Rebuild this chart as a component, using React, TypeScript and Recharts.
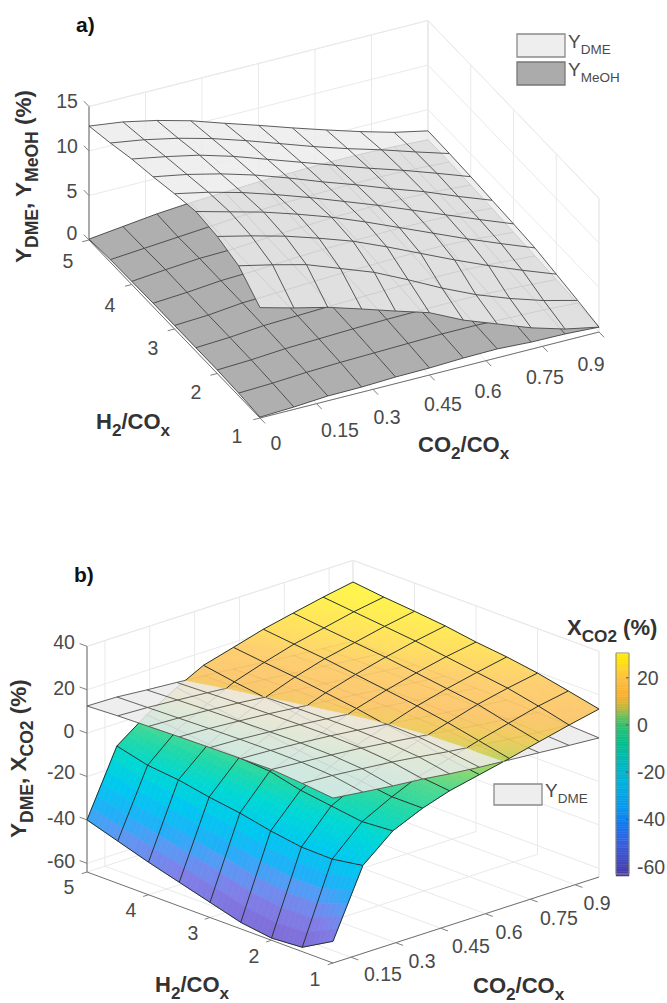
import { ScatterChart, Scatter, XAxis, YAxis } from 'recharts';

const WIDTH = 667;
const HEIGHT = 1003;

// H2/COx levels, rows of every table below run from 5 down to 1
const h2Levels = [5, 4.5, 4, 3.5, 3, 2.5, 2, 1.5, 1];
const co2LevelsA = [0, 0.09, 0.18, 0.27, 0.36, 0.45, 0.54, 0.63, 0.72, 0.81, 0.9];
const co2LevelsB = [0.09, 0.19, 0.29, 0.39, 0.48, 0.58, 0.68, 0.78, 0.88, 0.98];

const yDmeA = [
  [12.8, 12.3, 11.5, 10.5, 9.25, 8.05, 6.8, 5.6, 4.45, 3.4, 2.6],
  [13.4, 12.8, 12, 11, 9.8, 8.5, 7.2, 6, 4.9, 3.7, 2.55],
  [14.1, 13.4, 12.6, 11.5, 10.2, 8.9, 7.6, 6.3, 5.1, 3.8, 2.45],
  [14.6, 13.9, 13, 11.9, 10.6, 9.2, 7.9, 6.5, 5.2, 3.7, 2.3],
  [15.2, 14.4, 13.4, 12.2, 10.9, 9.5, 8.1, 6.6, 5.1, 3.6, 2.15],
  [15.7, 14.7, 13.7, 12.5, 11.2, 9.7, 8.1, 6.5, 4.9, 3.4, 1.95],
  [15.4, 14.5, 13.5, 12.3, 11, 9.4, 7.7, 6, 4.4, 2.9, 1.5],
  [14.6, 13.75, 12.8, 11.4, 10, 8.2, 6.3, 4.6, 3.2, 2, 1.05],
  [12.4, 11.4, 10.5, 9.35, 8.15, 7, 5.2, 3.8, 2.4, 1.3, 0.55],
];
const yMeohA = [
  [0.1, 0.55, 1, 1.3, 1.5, 1.7, 1.8, 1.9, 1.9, 1.8, 1.6],
  [0.3, 0.6, 0.9, 1.2, 1.5, 1.7, 1.8, 1.9, 1.9, 1.8, 1.6],
  [0.35, 0.7, 1, 1.1, 1.4, 1.6, 1.8, 1.9, 1.9, 1.8, 1.5],
  [0.4, 0.65, 1, 1.15, 1.4, 1.6, 1.7, 1.8, 1.8, 1.7, 1.4],
  [0.4, 0.6, 1, 1.15, 1.35, 1.5, 1.6, 1.7, 1.7, 1.5, 1.2],
  [0.4, 0.6, 0.95, 1.1, 1.25, 1.4, 1.5, 1.5, 1.5, 1.3, 1.05],
  [0.4, 0.57, 0.85, 1, 1.15, 1.25, 1.3, 1.35, 1.3, 1.1, 0.9],
  [0.3, 0.45, 0.7, 0.85, 0.95, 1.05, 1.15, 1.15, 1.05, 0.95, 0.75],
  [0.1, 0.27, 0.54, 0.58, 0.74, 0.79, 0.94, 1, 0.8, 0.75, 0.55],
];
const yDmeB = [
  [12.5, 12.2, 11, 10, 9, 7.7, 6.3, 5, 3.8, 2.7],
  [13.2, 12.6, 11.6, 10.5, 9.4, 8.1, 6.7, 5.3, 3.9, 2.5],
  [13.6, 13, 12.1, 11, 9.7, 8.4, 7, 5.5, 4, 2.4],
  [14, 13.4, 12.4, 11.3, 10, 8.6, 7.1, 5.5, 3.9, 2.2],
  [14.3, 13.7, 12.7, 11.5, 10.2, 8.7, 7.1, 5.4, 3.7, 2],
  [14.5, 13.8, 12.8, 11.6, 10.2, 8.5, 6.8, 5.1, 3.3, 1.8],
  [14.7, 13.6, 12.5, 11.2, 9.7, 8, 6.2, 4.4, 2.7, 1.4],
  [13.5, 12.7, 11.4, 10, 8.4, 6.4, 4.8, 3.1, 1.9, 0.8],
  [12, 10.3, 8.7, 7.4, 5.8, 4.4, 3.3, 2.2, 1.1, 0.1],
];
const xCo2B = [
  [-40, -10.4, -0.4, 7.6, 13.9, 17.7, 21.6, 24.6, 27.5, 30],
  [-44.5, -14, -2, 5.5, 11.5, 16, 20, 23, 26, 28.3],
  [-49, -15.5, -3.5, 3.5, 9.5, 14.5, 18.5, 21.5, 24.5, 27],
  [-53, -18.2, -4.5, 1.5, 7.5, 12.5, 16.5, 20, 23, 25.5],
  [-57, -20.3, -5.5, -0.5, 5.5, 10.5, 14.5, 18, 21, 23.3],
  [-61, -23.3, -9, -2.5, 3.5, 8, 12.5, 16, 19, 21.7],
  [-63, -25.5, -11, -4, 1.5, 6, 10, 14, 17, 19.5],
  [-62, -25.8, -13, -6, -0.5, 3, 7, 10.5, 14, 16.5],
  [-54, -23.5, -12, -6, -2, 1, 4, 7.3, 10.5, 13.4],
];

const h2Ticks = [5, 4, 3, 2, 1];
const co2TicksA = [0, 0.15, 0.3, 0.45, 0.6, 0.75, 0.9];
const co2TicksB = [0.15, 0.3, 0.45, 0.6, 0.75, 0.9];
const zTicksA = [0, 5, 10, 15];
const zTicksB = [-60, -40, -20, 0, 20, 40];
const barTicks = [20, 0, -20, -40, -60];

const barStops: [number, string][] = [
  [-64, '#4838a8'],
  [-50, '#3860e0'],
  [-42, '#1078f0'],
  [-35, '#0898f0'],
  [-25, '#00b0e0'],
  [-15, '#00b8b8'],
  [-8, '#00c090'],
  [0, '#30c070'],
  [3, '#60c060'],
  [8, '#c8b838'],
  [12, '#f8b030'],
  [20, '#ffc040'],
  [25, '#ffd820'],
  [30.5, '#ffee00'],
];
// the sheet is see-through, so it reads lighter than the colorbar
const sheetStops: [number, string][] = [
  [-64, '#7f68d4'],
  [-50, '#8080e8'],
  [-42, '#5c98f4'],
  [-35, '#20b0f8'],
  [-25, '#00c8f0'],
  [-15, '#00d8d4'],
  [-8, '#20d8a8'],
  [-2, '#50d890'],
  [3, '#a8d860'],
  [5, '#d8d060'],
  [8, '#f0cc60'],
  [12, '#fcc870'],
  [18, '#fdcf70'],
  [22, '#ffdf60'],
  [27, '#fff050'],
  [30.5, '#fff648'],
];

// box geometry of each panel: front corner + edge vectors
const boxA = { ox: 260, oy: 418, xx: 339, xy: -86, yx: -171, yy: -178, xMin: 0, xMax: 0.9, zMin: 0, zMax: 15, zs: 8.9 };
const boxB = { ox: 333, oy: 963, xx: 266, xy: -86, yx: -246, yy: -91, xMin: 0.09, xMax: 0.98, zMin: -64, zMax: 40, zs: 2.17 };

type Pt = number[];

const project = (b: any, x: number, h: number, z: number): Pt => {
  const t = (x - b.xMin) / (b.xMax - b.xMin);
  const s = (h - 1) / 4;
  return [b.ox + t * b.xx + s * b.yx, b.oy + t * b.xy + s * b.yy - (z - b.zMin) * b.zs];
};

const mark = (pts: Pt[], style: any) => ({ u: pts[0][0], v: pts[0][1], pts, ...style });
const gridStyle = { stroke: '#e9e9e9', strokeWidth: 1 };

function wallMarks(b: any, xTicks: number[], zTicks: number[]) {
  const out: any[] = [];
  xTicks.forEach((x) => {
    out.push(mark([project(b, x, 5, b.zMin), project(b, x, 5, b.zMax)], gridStyle));
    out.push(mark([project(b, x, 5, b.zMin), project(b, x, 1, b.zMin)], gridStyle));
  });
  h2Ticks.forEach((h) => {
    out.push(mark([project(b, b.xMax, h, b.zMin), project(b, b.xMax, h, b.zMax)], gridStyle));
    out.push(mark([project(b, b.xMin, h, b.zMin), project(b, b.xMax, h, b.zMin)], gridStyle));
  });
  [...zTicks, b.zMax].forEach((z) => {
    out.push(mark([project(b, b.xMin, 5, z), project(b, b.xMax, 5, z), project(b, b.xMax, 1, z)], gridStyle));
  });
  out.push(mark([project(b, b.xMax, 5, b.zMin), project(b, b.xMax, 5, b.zMax)], gridStyle));
  out.push(mark([project(b, b.xMax, 1, b.zMin), project(b, b.xMax, 1, b.zMax)], gridStyle));
  return out;
}

function axisMarks(b: any, xTicks: number[], zTicks: number[]) {
  const ax = { stroke: '#707070', strokeWidth: 1 };
  const tk = { stroke: '#808080', strokeWidth: 1 };
  const out: any[] = [
    mark([project(b, b.xMin, 5, b.zMin), project(b, b.xMin, 5, b.zMax)], { stroke: '#999999', strokeWidth: 1.6 }),
    mark([project(b, b.xMin, 5, b.zMin), project(b, b.xMin, 1, b.zMin)], ax),
    mark([project(b, b.xMin, 1, b.zMin), project(b, b.xMax, 1, b.zMin)], ax),
  ];
  xTicks.forEach((x) => {
    const p = project(b, x, 1, b.zMin);
    out.push(mark([p, [p[0] - 0.03 * b.yx, p[1] - 0.03 * b.yy]], tk));
  });
  h2Ticks.forEach((h) => {
    const p = project(b, b.xMin, h, b.zMin);
    out.push(mark([p, [p[0] - 0.02 * b.xx, p[1] - 0.02 * b.xy]], tk));
  });
  zTicks.forEach((z) => {
    const p = project(b, b.xMin, 5, z);
    out.push(mark([p, [p[0] + 0.03 * b.yx, p[1] + 0.03 * b.yy]], tk));
  });
  return out;
}

function cellMarks(b: any, co2: number[], z: number[][], style: any) {
  const out: any[] = [];
  for (let r = 0; r < h2Levels.length - 1; r++) {
    for (let c = co2.length - 2; c >= 0; c--) {
      out.push(
        mark(
          [
            project(b, co2[c], h2Levels[r], z[r][c]),
            project(b, co2[c + 1], h2Levels[r], z[r][c + 1]),
            project(b, co2[c + 1], h2Levels[r + 1], z[r + 1][c + 1]),
            project(b, co2[c], h2Levels[r + 1], z[r + 1][c]),
          ],
          style,
        ),
      );
    }
  }
  return out;
}

function lineMarks(b: any, co2: number[], z: number[][], style: any) {
  const rows = h2Levels.map((h, r) => mark(co2.map((x, c) => project(b, x, h, z[r][c])), style));
  const cols = co2.map((x, c) => mark(h2Levels.map((h, r) => project(b, x, h, z[r][c])), style));
  return [...rows, ...cols];
}

const hexToRgb = (hex: string) => [1, 3, 5].map((i) => parseInt(hex.slice(i, i + 2), 16));

function colorAt(stops: [number, string][], value: number) {
  let i = 0;
  while (i < stops.length - 2 && value > stops[i + 1][0]) i++;
  const [v0, c0] = stops[i];
  const [v1, c1] = stops[i + 1];
  const f = Math.max(0, Math.min(1, (value - v0) / (v1 - v0)));
  const a = hexToRgb(c0);
  const e = hexToRgb(c1);
  return `rgb(${a.map((ch, k) => Math.round(ch + (e[k] - ch) * f)).join(',')})`;
}

// bilinear lookup inside one table cell, only for shading inside a patch
const blend = (z: number[][], r: number, c: number, fr: number, fc: number) =>
  (z[r][c] * (1 - fc) + z[r][c + 1] * fc) * (1 - fr) + (z[r + 1][c] * (1 - fc) + z[r + 1][c + 1] * fc) * fr;

const SUB = 6;

// keep the part of a small patch on one side of the X_CO2 = Y_DME crossing
function clipPatch(corners: number[][], sign: number) {
  const out: number[][] = [];
  corners.forEach((p, i) => {
    const q = corners[(i + 1) % corners.length];
    const dp = p[2] * sign;
    const dq = q[2] * sign;
    if (dp >= 0) out.push(p);
    if (dp >= 0 !== dq >= 0) {
      const f = dp / (dp - dq);
      out.push([p[0] + (q[0] - p[0]) * f, p[1] + (q[1] - p[1]) * f, 0]);
    }
  });
  return out;
}

function shadedPatches(b: any, co2: number[], z: number[][], other: number[][]) {
  const under: any[] = [];
  const over: any[] = [];
  for (let r = 0; r < h2Levels.length - 1; r++) {
    for (let c = co2.length - 2; c >= 0; c--) {
      const toScreen = (fr: number, fc: number) =>
        project(
          b,
          co2[c] + (co2[c + 1] - co2[c]) * fc,
          h2Levels[r] + (h2Levels[r + 1] - h2Levels[r]) * fr,
          blend(z, r, c, fr, fc),
        );
      for (let i = 0; i < SUB; i++) {
        for (let j = SUB - 1; j >= 0; j--) {
          const corner = (a: number, d: number) => [
            a / SUB,
            d / SUB,
            blend(z, r, c, a / SUB, d / SUB) - blend(other, r, c, a / SUB, d / SUB),
          ];
          const quad = [corner(i, j), corner(i, j + 1), corner(i + 1, j + 1), corner(i + 1, j)];
          const col = colorAt(sheetStops, blend(z, r, c, (i + 0.5) / SUB, (j + 0.5) / SUB));
          const style = { fill: col, stroke: col, strokeWidth: 0.7 };
          const above = clipPatch(quad, 1);
          const below = clipPatch(quad, -1);
          if (above.length > 2) over.push(mark(above.map((p) => toScreen(p[0], p[1])), style));
          if (below.length > 2) under.push(mark(below.map((p) => toScreen(p[0], p[1])), style));
        }
      }
    }
  }
  return { under, over };
}

// mesh lines of the X_CO2 sheet, cut where they pass through the Y_DME sheet
function splitLines(b: any, co2: number[], z: number[][], other: number[][], style: any) {
  const under: any[] = [];
  const over: any[] = [];
  const addEdge = (r0: number, c0: number, r1: number, c1: number) => {
    const at = (f: number) =>
      project(
        b,
        co2[c0] + (co2[c1] - co2[c0]) * f,
        h2Levels[r0] + (h2Levels[r1] - h2Levels[r0]) * f,
        z[r0][c0] + (z[r1][c1] - z[r0][c0]) * f,
      );
    const d0 = z[r0][c0] - other[r0][c0];
    const d1 = z[r1][c1] - other[r1][c1];
    if (d0 >= 0 === d1 >= 0) {
      (d0 >= 0 ? over : under).push(mark([at(0), at(1)], style));
      return;
    }
    const f = d0 / (d0 - d1);
    (d0 >= 0 ? over : under).push(mark([at(0), at(f)], style));
    (d1 >= 0 ? over : under).push(mark([at(f), at(1)], style));
  };
  h2Levels.forEach((_, r) => co2.slice(1).forEach((__, c) => addEdge(r, c, r, c + 1)));
  co2.forEach((_, c) => h2Levels.slice(1).forEach((__, r) => addEdge(r, c, r + 1, c)));
  return { under, over };
}

// colorbar strips
const barValues: number[] = [];
for (let v = -63.5; v < 30.5; v += 1) barValues.push(v);
const barY = (v: number) => 725 - v * 2.36;
const barMarks = barValues.map((v) => {
  const col = colorAt(barStops, v);
  return mark(
    [
      [616, barY(v + 0.5)],
      [629, barY(v + 0.5)],
      [629, barY(v - 0.5)],
      [616, barY(v - 0.5)],
    ],
    { fill: col, stroke: col, strokeWidth: 0.5 },
  );
});
const barTickMarks = barTicks.map((t) =>
  mark(
    [
      [626, barY(t)],
      [629, barY(t)],
    ],
    { stroke: '#555555', strokeWidth: 1 },
  ),
);
const frame = (x0: number, y0: number, x1: number, y1: number, fill: string, stroke: string, strokeWidth: number) =>
  mark(
    [
      [x0, y0],
      [x1, y0],
      [x1, y1],
      [x0, y1],
    ],
    { fill, stroke, strokeWidth },
  );

// text: parts are [string, isSubscript]
const BOLD = { weight: 700, fill: '#333333', size: 22, subRatio: 0.78 };
const AXIS_TITLE = { ...BOLD, size: 22.5 };
const TICK = { weight: 400, fill: '#4a4a4a', size: 19.5, subRatio: 0.71 };
const LEGEND = { ...TICK, size: 19 };
const label = (u: number, v: number, parts: any[], style: any, extra: any = {}) => ({ u, v, parts, ...style, ...extra });
const plain = (s: string) => [[s, false]];
const tickLabels = (values: (string | number)[], places: number[][]) =>
  values.map((t, i) => label(places[i][0], places[i][1], plain(String(t)), TICK, { anchor: 'middle' }));

const texts = [
  label(76, 32, plain('a)'), { ...BOLD, size: 21, fill: '#111111' }),
  label(74, 582, plain('b)'), { ...BOLD, size: 21, fill: '#111111' }),
  ...tickLabels([15, 10, 5, 0], [[67, 108], [67, 153], [72, 198], [72, 240]]),
  ...tickLabels(h2Ticks, [[68, 268], [110, 312], [153, 355], [196, 399], [237, 443]]),
  ...tickLabels(co2TicksA, [[276, 450], [340, 437], [387, 424], [443, 411], [488, 398], [545, 384], [591, 371]]),
  ...tickLabels([40, 20, 0, -20, -40, -60], [[64, 649], [64, 695], [69, 738], [61, 779], [61, 825], [61, 868]]),
  ...tickLabels(h2Ticks, [[69, 894], [131, 917], [193, 940], [254, 963], [315, 986]]),
  ...tickLabels(co2TicksB, [[383, 981], [422, 968], [471, 953], [509, 939], [559, 925], [597, 910]]),
  ...barTicks.map((t) => label(637, barY(t) + 7, plain(String(t)), TICK)),
  label(96, 429, [['H', false], ['2', true], ['/CO', false], ['x', true]], BOLD),
  label(418, 452, [['CO', false], ['2', true], ['/CO', false], ['x', true]], BOLD),
  label(155, 992, [['H', false], ['2', true], ['/CO', false], ['x', true]], BOLD),
  label(473, 993, [['CO', false], ['2', true], ['/CO', false], ['x', true]], BOLD),
  label(31, 263, [['Y', false], ['DME', true], [', Y', false], ['MeOH', true], [' (%)', false]], AXIS_TITLE, { rotate: true }),
  label(26, 838, [['Y', false], ['DME', true], [', X', false], ['CO2', true], [' (%)', false]], AXIS_TITLE, { rotate: true }),
  label(567, 635, [['X', false], ['CO2', true], [' (%)', false]], BOLD),
  label(568, 48, [['Y', false], ['DME', true]], LEGEND),
  label(568, 76, [['Y', false], ['MeOH', true]], LEGEND),
  label(545, 797, [['Y', false], ['DME', true]], LEGEND),
];

const meshStyle = { stroke: '#3f3f3f', strokeWidth: 0.9 };
const xMeshStyle = { stroke: '#26332e', strokeWidth: 1 };
const sheetStyle = { fill: '#ebebeb', fillOpacity: 0.81 };

const patches = shadedPatches(boxB, co2LevelsB, xCo2B, yDmeB);
const xLines = splitLines(boxB, co2LevelsB, xCo2B, yDmeB, xMeshStyle);

const layers: any[][] = [
  // panel a
  wallMarks(boxA, co2TicksA, zTicksA),
  axisMarks(boxA, co2TicksA, zTicksA),
  cellMarks(boxA, co2LevelsA, yMeohA, { fill: '#a8a8a8', fillOpacity: 0.92 }),
  lineMarks(boxA, co2LevelsA, yMeohA, meshStyle),
  cellMarks(boxA, co2LevelsA, yDmeA, sheetStyle),
  lineMarks(boxA, co2LevelsA, yDmeA, { stroke: '#4a4a4a', strokeWidth: 0.9 }),
  [frame(517, 34, 565, 57, '#eeeeee', '#8a8a8a', 1.3), frame(517, 62, 565, 85, '#ababab', '#777777', 1.3)],
  // panel b
  wallMarks(boxB, co2TicksB, zTicksB),
  axisMarks(boxB, co2TicksB, zTicksB),
  patches.under,
  xLines.under,
  cellMarks(boxB, co2LevelsB, yDmeB, { fill: '#ebebeb', fillOpacity: 0.85 }),
  lineMarks(boxB, co2LevelsB, yDmeB, { stroke: '#555555', strokeWidth: 0.9 }),
  patches.over,
  lineMarks(boxB, co2LevelsB, yDmeB, { stroke: '#8a5a20', strokeWidth: 0.6, strokeOpacity: 0.14 }),
  xLines.over,
  barMarks,
  barTickMarks,
  [frame(616, 653, 629, 874, 'none', '#8a8a70', 1), frame(494, 784, 542, 805, '#eeeeee', '#8a8a8a', 1.3)],
];

function MeshMark(props: any) {
  const { cx, cy, payload: m } = props;
  if (cx == null || cy == null) return null;
  const points = m.pts.map((p: Pt) => `${(p[0] - m.u + cx).toFixed(2)},${(p[1] - m.v + cy).toFixed(2)}`).join(' ');
  if (m.fill) {
    return <polygon points={points} fill={m.fill} fillOpacity={m.fillOpacity} stroke={m.stroke} strokeWidth={m.strokeWidth} />;
  }
  return <polyline points={points} fill="none" stroke={m.stroke} strokeWidth={m.strokeWidth} strokeOpacity={m.strokeOpacity} strokeLinejoin="round" />;
}

function TextMark(props: any) {
  const { cx, cy, payload: m } = props;
  if (cx == null || cy == null) return null;
  const drop = m.size * 0.3;
  return (
    <text
      x={cx}
      y={cy}
      fontFamily='"Liberation Sans", Arial, sans-serif'
      fontSize={m.size}
      fontWeight={m.weight}
      fill={m.fill}
      textAnchor={m.anchor ?? 'start'}
      transform={m.rotate ? `rotate(-90 ${cx} ${cy})` : undefined}
    >
      {m.parts.map(([s, sub]: any, i: number) => {
        const wasSub = i > 0 && m.parts[i - 1][1];
        const dy = sub ? drop : wasSub ? -drop : 0;
        return (
          <tspan key={i} dy={dy} fontSize={sub ? m.size * m.subRatio : m.size} style={{ whiteSpace: 'pre' }}>
            {s}
          </tspan>
        );
      })}
    </text>
  );
}

export default function App() {
  return (
    <div style={{ position: 'absolute', left: 0, top: 0, width: WIDTH, height: HEIGHT, background: '#ffffff' }}>
      <ScatterChart width={WIDTH} height={HEIGHT} margin={{ top: 0, right: 0, bottom: 0, left: 0 }}>
        <XAxis type="number" dataKey="u" domain={[0, WIDTH]} hide allowDataOverflow />
        <YAxis type="number" dataKey="v" domain={[0, HEIGHT]} reversed hide allowDataOverflow />
        {layers.map((data, i) => (
          <Scatter key={i} data={data} shape={MeshMark} isAnimationActive={false} />
        ))}
        <Scatter data={texts} shape={TextMark} isAnimationActive={false} />
      </ScatterChart>
    </div>
  );
}
